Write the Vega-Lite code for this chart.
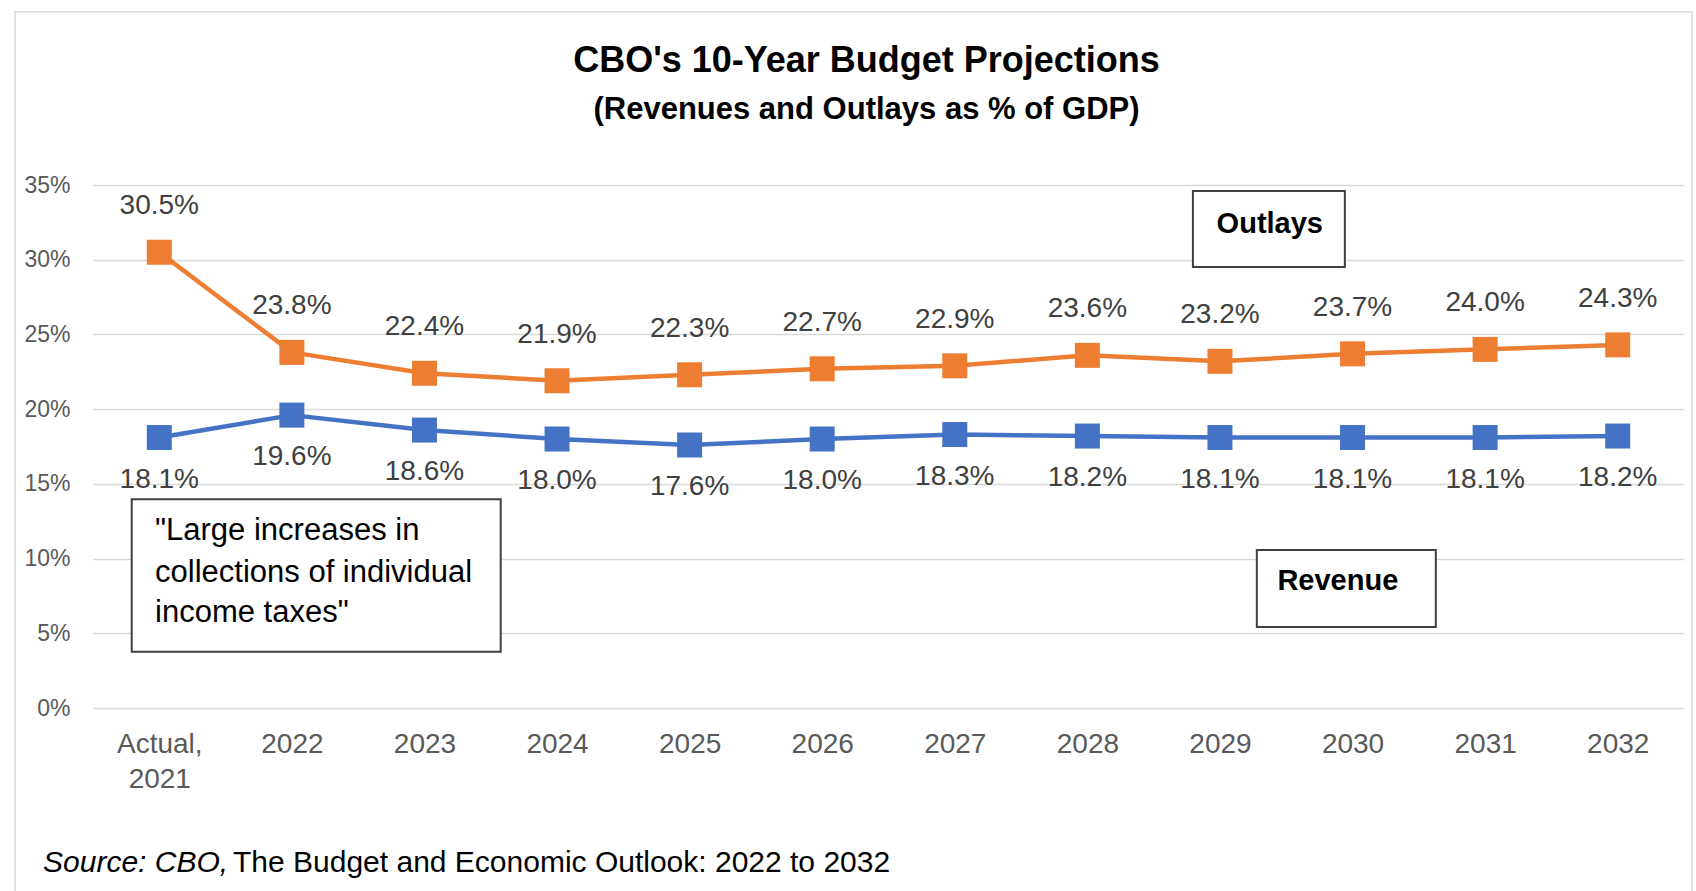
{
  "$schema": "https://vega.github.io/schema/vega-lite/v6.json",
  "width": 1591,
  "height": 523,
  "autosize": {"type": "none"},
  "padding": {"left": 93, "top": 185, "right": 12, "bottom": 183},
  "background": "white",
  "config": {"view": {"stroke": null}, "font": "Liberation Sans"},
  "title": {
    "text": "CBO's 10-Year Budget Projections",
    "subtitle": "(Revenues and Outlays as % of GDP)",
    "font": "Liberation Sans",
    "fontSize": 36,
    "fontWeight": "bold",
    "color": "#000000",
    "subtitleFont": "Liberation Sans",
    "subtitleFontSize": 31,
    "subtitleFontWeight": "bold",
    "subtitleColor": "#000000",
    "subtitlePadding": 15,
    "anchor": "middle",
    "frame": "group",
    "dx": -22,
    "offset": -115
  },
  "datasets": {
    "series": [
      {"year": "Actual, 2021", "series": "Outlays", "value": 30.5},
      {"year": "2022", "series": "Outlays", "value": 23.8},
      {"year": "2023", "series": "Outlays", "value": 22.4},
      {"year": "2024", "series": "Outlays", "value": 21.9},
      {"year": "2025", "series": "Outlays", "value": 22.3},
      {"year": "2026", "series": "Outlays", "value": 22.7},
      {"year": "2027", "series": "Outlays", "value": 22.9},
      {"year": "2028", "series": "Outlays", "value": 23.6},
      {"year": "2029", "series": "Outlays", "value": 23.2},
      {"year": "2030", "series": "Outlays", "value": 23.7},
      {"year": "2031", "series": "Outlays", "value": 24.0},
      {"year": "2032", "series": "Outlays", "value": 24.3},
      {"year": "Actual, 2021", "series": "Revenue", "value": 18.1},
      {"year": "2022", "series": "Revenue", "value": 19.6},
      {"year": "2023", "series": "Revenue", "value": 18.6},
      {"year": "2024", "series": "Revenue", "value": 18.0},
      {"year": "2025", "series": "Revenue", "value": 17.6},
      {"year": "2026", "series": "Revenue", "value": 18.0},
      {"year": "2027", "series": "Revenue", "value": 18.3},
      {"year": "2028", "series": "Revenue", "value": 18.2},
      {"year": "2029", "series": "Revenue", "value": 18.1},
      {"year": "2030", "series": "Revenue", "value": 18.1},
      {"year": "2031", "series": "Revenue", "value": 18.1},
      {"year": "2032", "series": "Revenue", "value": 18.2}
    ],
    "frame": [
      {"x1": -0.588, "x2": 12.06, "y1": 46.6, "y2": -13.5}
    ],
    "boxes": [
      {"name": "note", "x1": 0.292, "x2": 3.075, "y1": 13.97, "y2": 3.77},
      {"name": "Outlays", "x1": 8.296, "x2": 9.442, "y1": 34.6, "y2": 29.52},
      {"name": "Revenue", "x1": 8.778, "x2": 10.128, "y1": 10.58, "y2": 5.42}
    ],
    "noteLines": [
      {"text": "\"Large increases in", "x": 0.468, "y": 11.24},
      {"text": "collections of individual", "x": 0.468, "y": 8.45},
      {"text": "income taxes\"", "x": 0.468, "y": 5.78}
    ],
    "boxLabels": [
      {"text": "Outlays", "x": 8.876, "y": 31.79},
      {"text": "Revenue", "x": 9.389, "y": 7.9}
    ],
    "sourceItalic": [
      {"text": "Source: CBO,", "x": -0.377, "y": -10.96}
    ],
    "sourcePlain": [
      {"text": "The Budget and Economic Outlook: 2022 to 2032", "x": 1.056, "y": -10.96}
    ]
  },
  "layer": [
    {
      "data": {"name": "series"},
      "encoding": {
        "x": {
          "field": "year",
          "type": "ordinal",
          "sort": null,
          "axis": {
            "title": null,
            "labelFontSize": 28,
            "labelColor": "#595959",
            "labelPadding": 22,
            "labelAngle": 0,
            "domain": false,
            "ticks": false,
            "labelLineHeight": 35,
            "labelExpr": "datum.value == 'Actual, 2021' ? ['Actual,', '2021'] : datum.label"
          }
        },
        "y": {
          "field": "value",
          "type": "quantitative",
          "scale": {"domain": [0, 35], "nice": false},
          "axis": {
            "title": null,
            "values": [0, 5, 10, 15, 20, 25, 30, 35],
            "labelExpr": "datum.value + '%'",
            "labelFontSize": 23,
            "labelColor": "#595959",
            "labelPadding": 23,
            "domain": false,
            "ticks": false,
            "gridColor": "#d9d9d9",
            "gridWidth": 1.5
          }
        },
        "color": {
          "field": "series",
          "type": "nominal",
          "scale": {"domain": ["Outlays", "Revenue"], "range": ["#ED7D31", "#4472C4"]},
          "legend": null
        }
      },
      "layer": [
        {"mark": {"type": "line", "strokeWidth": 4.5, "strokeJoin": "round"}},
        {"mark": {"type": "point", "shape": "square", "filled": true, "size": 625, "opacity": 1}},
        {
          "transform": [
            {"filter": "datum.series == 'Outlays'"},
            {"calculate": "format(datum.value, '.1f') + '%'", "as": "label"}
          ],
          "mark": {"type": "text", "dy": -46, "fontSize": 28, "baseline": "middle"},
          "encoding": {"text": {"field": "label"}, "color": {"value": "#404040"}}
        },
        {
          "transform": [
            {"filter": "datum.series == 'Revenue'"},
            {"calculate": "format(datum.value, '.1f') + '%'", "as": "label"}
          ],
          "mark": {"type": "text", "dy": 42, "fontSize": 28, "baseline": "middle"},
          "encoding": {"text": {"field": "label"}, "color": {"value": "#404040"}}
        }
      ]
    },
    {
      "layer": [
        {
          "data": {"name": "frame"},
          "mark": {"type": "rect", "fill": null, "stroke": "#d9d9d9", "strokeWidth": 1.5},
          "encoding": {
            "x": {"field": "x1", "type": "quantitative", "scale": {"domain": [0, 12], "nice": false, "zero": false}, "axis": null},
            "x2": {"field": "x2"},
            "y": {"field": "y1", "type": "quantitative", "scale": {"domain": [0, 35], "nice": false}, "axis": null},
            "y2": {"field": "y2"}
          }
        },
        {
          "data": {"name": "boxes"},
          "mark": {"type": "rect", "fill": "white", "stroke": "#404040", "strokeWidth": 2},
          "encoding": {
            "x": {"field": "x1", "type": "quantitative"},
            "x2": {"field": "x2"},
            "y": {"field": "y1", "type": "quantitative"},
            "y2": {"field": "y2"}
          }
        },
        {
          "data": {"name": "noteLines"},
          "mark": {"type": "text", "align": "left", "baseline": "alphabetic", "font": "Liberation Sans", "fontSize": 31, "color": "#000000"},
          "encoding": {
            "x": {"field": "x", "type": "quantitative"},
            "y": {"field": "y", "type": "quantitative"},
            "text": {"field": "text"}
          }
        },
        {
          "data": {"name": "boxLabels"},
          "mark": {"type": "text", "align": "center", "baseline": "alphabetic", "font": "Liberation Sans", "fontWeight": "bold", "fontSize": 29, "color": "#000000"},
          "encoding": {
            "x": {"field": "x", "type": "quantitative"},
            "y": {"field": "y", "type": "quantitative"},
            "text": {"field": "text"}
          }
        },
        {
          "data": {"name": "sourceItalic"},
          "mark": {"type": "text", "align": "left", "baseline": "alphabetic", "font": "Liberation Sans", "fontStyle": "italic", "fontSize": 30, "color": "#000000"},
          "encoding": {
            "x": {"field": "x", "type": "quantitative"},
            "y": {"field": "y", "type": "quantitative"},
            "text": {"field": "text"}
          }
        },
        {
          "data": {"name": "sourcePlain"},
          "mark": {"type": "text", "align": "left", "baseline": "alphabetic", "font": "Liberation Sans", "fontSize": 30, "color": "#000000"},
          "encoding": {
            "x": {"field": "x", "type": "quantitative"},
            "y": {"field": "y", "type": "quantitative"},
            "text": {"field": "text"}
          }
        }
      ]
    }
  ],
  "resolve": {"scale": {"x": "independent", "y": "independent", "color": "independent"}}
}
